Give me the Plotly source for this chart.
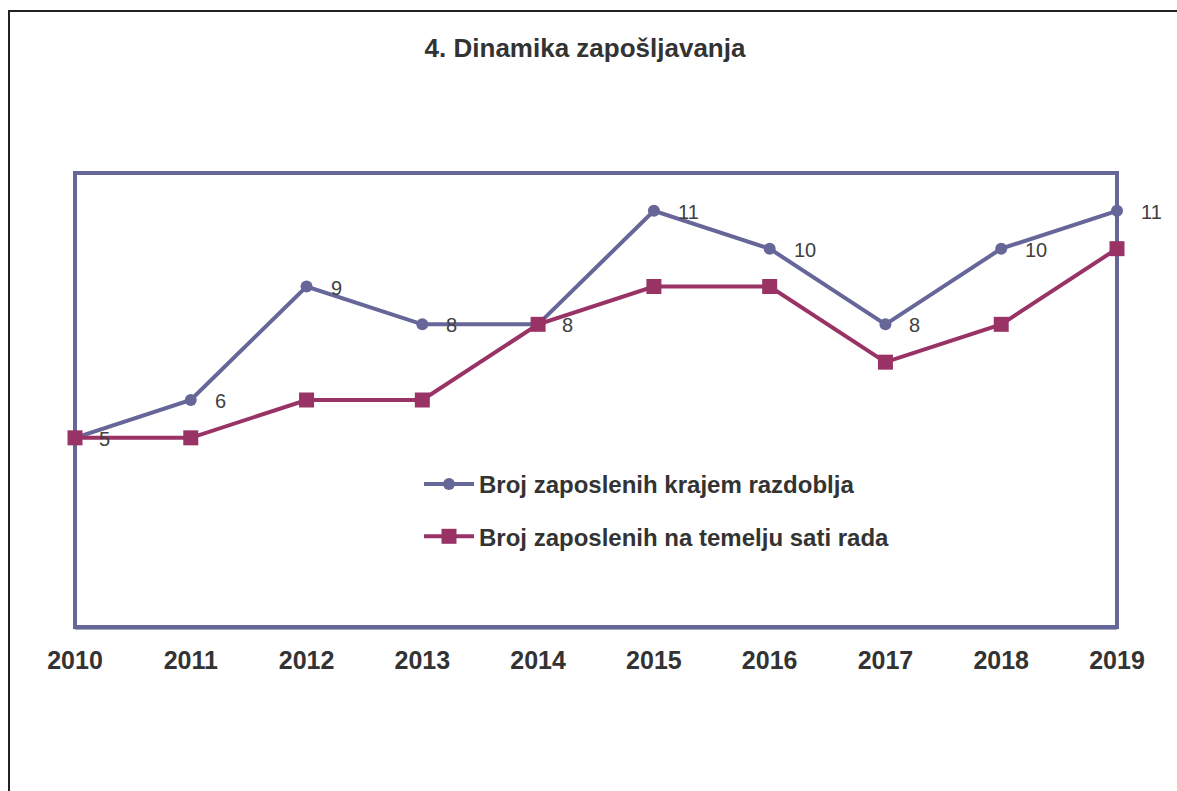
import plotly.graph_objects as go

years = ["2010", "2011", "2012", "2013", "2014", "2015", "2016", "2017", "2018", "2019"]
end_of_period = [5, 6, 9, 8, 8, 11, 10, 8, 10, 11]
hours_based = [5, 5, 6, 6, 8, 9, 9, 7, 8, 10]
name1 = "Broj zaposlenih krajem razdoblja"
name2 = "Broj zaposlenih na temelju sati rada"
title = "4. Dinamika zapošljavanja"

C1 = "#666699"
C2 = "#993366"
FONT = "Liberation Sans, Arial, sans-serif"

W, H = 1177, 791
L, R, T, B = 75, 60, 173, 164
pw, ph = W - L - R, H - T - B

fig = go.Figure()
fig.add_trace(go.Scatter(
    x=years, y=end_of_period, name=name1, mode="lines+markers",
    line=dict(color=C1, width=4), marker=dict(symbol="circle", size=12, color=C1),
    legendgroup="a", cliponaxis=False))
fig.add_trace(go.Scatter(
    x=years, y=hours_based, name=name2, mode="lines+markers",
    line=dict(color=C2, width=4), marker=dict(symbol="square", size=15, color=C2),
    legendgroup="b", cliponaxis=False))

for i, (x, y) in enumerate(zip(years, end_of_period)):
    fig.add_annotation(x=i, y=y, xref="x", yref="y", text=str(y), showarrow=False,
                       xanchor="left", yanchor="middle", xshift=22, yshift=-1,
                       font=dict(family=FONT, size=20, color="#404040"))

def px(x):
    return (x - L) / pw

def py(y):
    return (H - B - y) / ph

shapes = [
    # plot area border shadow
    dict(type="line", xref="paper", yref="paper", x0=0, x1=1, y0=py(629), y1=py(629),
         line=dict(color="#a8a8c0", width=2), layer="below"),
    dict(type="rect", xref="paper", yref="paper", x0=0, x1=1, y0=0, y1=1,
         line=dict(color=C1, width=4), layer="below"),
    # outer frame (left and top)
    dict(type="line", xref="paper", yref="paper", x0=px(9), x1=px(9), y0=py(11), y1=py(H + 5),
         line=dict(color="#222222", width=2)),
    dict(type="line", xref="paper", yref="paper", x0=px(8), x1=px(W + 5), y0=py(11), y1=py(11),
         line=dict(color="#222222", width=2)),
]

fig.update_layout(
    width=W, height=H,
    margin=dict(l=L, r=R, t=T, b=B, pad=0),
    paper_bgcolor="white", plot_bgcolor="white",
    title=dict(text="<b>" + title + "</b>", x=585 / W, xanchor="center",
               y=1 - 48 / H, yanchor="middle",
               font=dict(family=FONT, size=26, color="#333333")),
    xaxis=dict(type="category", range=[0, len(years) - 1], showgrid=False, zeroline=False,
               showline=False, ticks="", ticklabelstandoff=16,
               tickfont=dict(family=FONT, size=25, color="#333333", weight="bold")),
    yaxis=dict(range=[0, 12], visible=False, showgrid=False, zeroline=False),
    legend=dict(x=px(419), y=py(462), xanchor="left", yanchor="top",
                bgcolor="rgba(0,0,0,0)", tracegroupgap=18,
                font=dict(family=FONT, size=24, color="#333333", weight="bold"),
                itemwidth=50),
    shapes=shapes,
    showlegend=True,
)

fig.write_html("out.html")
